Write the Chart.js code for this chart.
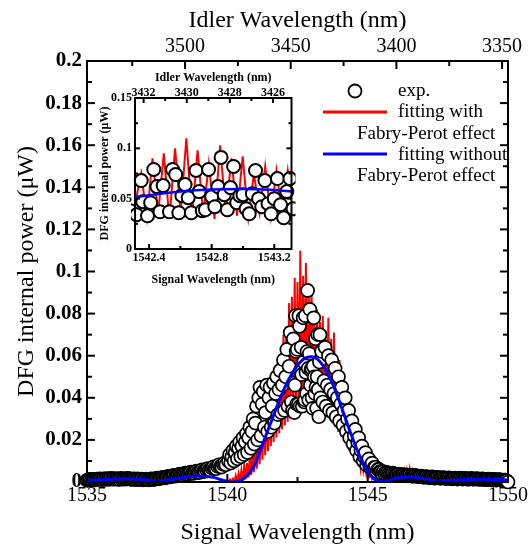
<!DOCTYPE html>
<html>
<head>
<meta charset="utf-8">
<script src="https://cdn.jsdelivr.net/npm/chart.js@4.4.1/dist/chart.umd.min.js"></script>
<style>
  html, body { margin: 0; padding: 0; background: #fff; }
  #wrap { position: relative; width: 532px; height: 547px; }
  #main { position: absolute; left: 0; top: 0; }
  #inset { position: absolute; left: 95px; top: 62px; }
</style>
</head>
<body>
<div id="wrap">
  <canvas id="main" width="532" height="547"></canvas>
  <canvas id="inset" width="205" height="232"></canvas>
</div>
<script>
// measured DFG power (uW) vs signal wavelength (nm)
const expX = [
  // baseline, short side
  1535.00,1535.05,1535.10,1535.15,1535.20,1535.25,1535.30,1535.35,1535.40,1535.45,
  1535.50,1535.55,1535.60,1535.65,1535.70,1535.75,1535.80,1535.85,1535.90,1535.95,
  1536.00,1536.05,1536.10,1536.15,1536.20,1536.25,1536.30,1536.35,1536.40,1536.45,
  1536.50,1536.55,1536.60,1536.65,1536.70,1536.75,1536.80,1536.85,1536.90,1536.95,
  1537.00,1537.05,1537.10,1537.15,1537.20,1537.25,1537.30,1537.35,1537.40,1537.45,
  1537.50,1537.55,1537.60,1537.65,1537.70,1537.75,1537.80,1537.85,1537.90,1537.95,
  1538.00,1538.05,1538.10,1538.15,1538.20,1538.25,1538.30,1538.35,1538.40,1538.45,
  1538.50,1538.55,1538.60,1538.65,1538.70,1538.75,1538.80,1538.85,1538.90,1538.95,
  1539.00,1539.05,1539.10,1539.15,1539.20,1539.25,1539.30,1539.35,1539.40,1539.45,
  1539.50,1539.55,1539.60,1539.65,1539.70,1539.75,1539.80,1539.85,1539.90,1539.95,
  // rising edge
  1540.04,1540.08,1540.12,1540.16,1540.20,1540.24,1540.28,1540.32,1540.36,1540.40,
  1540.44,1540.48,1540.52,1540.56,1540.60,1540.64,1540.68,1540.72,1540.76,1540.80,
  1540.84,1540.88,1540.92,1540.96,1541.00,1541.04,1541.08,1541.12,1541.16,1541.20,
  1541.24,1541.28,1541.32,1541.36,1541.40,1541.44,1541.48,1541.52,1541.56,1541.60,
  1541.64,1541.68,1541.72,1541.76,1541.80,1541.84,1541.88,1541.92,1541.96,1542.00,
  1542.04,1542.08,1542.12,1542.16,1542.20,1542.24,1542.28,
  // peak (also shown in the inset)
  1542.32,1542.35,1542.36,1542.39,1542.41,1542.43,1542.45,1542.47,1542.49,1542.53,
  1542.55,1542.57,1542.59,1542.61,1542.63,1542.65,1542.67,1542.70,1542.72,1542.74,
  1542.76,1542.78,1542.80,1542.82,1542.84,1542.86,1542.88,1542.90,1542.92,1542.94,
  1542.96,1542.98,1543.00,1543.02,1543.04,1543.06,1543.08,1543.10,1543.12,1543.14,
  1543.16,1543.18,1543.20,1543.22,1543.24,1543.26,1543.28,1543.30,1543.32,
  // falling edge
  1543.36,1543.40,1543.44,1543.48,1543.52,1543.56,1543.60,1543.64,1543.68,1543.72,
  1543.76,1543.80,1543.84,1543.88,1543.92,1543.96,1544.00,1544.04,1544.08,1544.12,
  1544.16,1544.20,1544.24,1544.28,1544.32,1544.36,1544.40,1544.44,1544.48,1544.52,
  1544.56,1544.60,1544.64,1544.68,1544.72,1544.76,1544.80,1544.84,1544.88,1544.92,
  1544.96,1545.00,1545.04,1545.08,1545.12,1545.16,1545.20,1545.24,1545.28,1545.32,
  1545.36,1545.40,1545.44,1545.48,1545.52,1545.56,1545.60,
  // baseline, long side
  1545.65,1545.70,1545.75,1545.80,1545.85,1545.90,1545.95,
  1546.00,1546.05,1546.10,1546.15,1546.20,1546.25,1546.30,1546.35,1546.40,1546.45,
  1546.50,1546.55,1546.60,1546.65,1546.70,1546.75,1546.80,1546.85,1546.90,1546.95,
  1547.00,1547.05,1547.10,1547.15,1547.20,1547.25,1547.30,1547.35,1547.40,1547.45,
  1547.50,1547.55,1547.60,1547.65,1547.70,1547.75,1547.80,1547.85,1547.90,1547.95,
  1548.00,1548.05,1548.10,1548.15,1548.20,1548.25,1548.30,1548.35,1548.40,1548.45,
  1548.50,1548.55,1548.60,1548.65,1548.70,1548.75,1548.80,1548.85,1548.90,1548.95,
  1549.00,1549.05,1549.10,1549.15,1549.20,1549.25,1549.30,1549.35,1549.40,1549.45,
  1549.50,1549.55,1549.60,1549.65,1549.70,1549.75,1549.80,1549.85,1549.90,1549.95,
  1550.00
];
const expY = [
  .0008,.0011,.0012,.0009,.0013,.0011,.0010,.0014,.0012,.0015,
  .0014,.0011,.0015,.0013,.0016,.0012,.0015,.0017,.0013,.0016,
  .0013,.0016,.0014,.0012,.0017,.0015,.0013,.0016,.0014,.0017,
  .0016,.0013,.0012,.0015,.0014,.0011,.0015,.0013,.0011,.0014,
  .0010,.0013,.0014,.0011,.0010,.0014,.0015,.0012,.0012,.0016,
  .0018,.0016,.0016,.0020,.0022,.0019,.0020,.0024,.0027,.0024,
  .0025,.0029,.0032,.0028,.0029,.0034,.0037,.0033,.0033,.0039,
  .0042,.0038,.0037,.0043,.0047,.0042,.0041,.0048,.0052,.0046,
  .0045,.0053,.0058,.0051,.0050,.0059,.0064,.0057,.0056,.0066,
  .0072,.0064,.0063,.0074,.0082,.0073,.0071,.0084,.0090,.0082,

  .010,.013,.009,.012,.015,.010,.014,.017,.011,.016,
  .019,.012,.017,.021,.013,.019,.023,.014,.021,.026,
  .016,.024,.030,.018,.028,.036,.020,.040,.045,.022,
  .037,.043,.026,.033,.046,.024,.040,.045,.026,.036,
  .047,.028,.042,.050,.032,.044,.053,.033,.046,.058,
  .034,.050,.063,.036,.055,.071,.038,

  .034,.068,.047,.033,.046,.079,.062,.037,.063,.037,
  .079,.074,.036,.053,.064,.051,.036,.078,.057,.038,
  .039,.079,.052,.042,.062,.091,.054,.039,.061,.082,
  .046,.053,.054,.040,.035,.055,.078,.050,.042,.068,
  .045,.035,.050,.070,.044,.031,.057,.070,.040,

  .062,.038,.048,.064,.036,.046,.060,.034,.044,.058,
  .033,.042,.054,.031,.040,.050,.029,.037,.045,.027,
  .034,.040,.024,.030,.034,.021,.026,.029,.018,.022,
  .025,.015,.019,.021,.012,.015,.017,.010,.012,.014,
  .008,.010,.011,.007,.008,.009,.006,.007,.007,.005,
  .006,.006,.005,.005,.004,.005,.004,

  .0046,.0045,.0040,.0038,.0041,.0042,.0037,
  .0034,.0036,.0038,.0033,.0031,.0034,.0035,.0031,.0029,.0032,
  .0033,.0029,.0027,.0030,.0031,.0027,.0025,.0027,.0028,.0025,
  .0022,.0024,.0026,.0022,.0020,.0023,.0024,.0020,.0018,.0021,
  .0022,.0019,.0017,.0020,.0021,.0018,.0016,.0018,.0020,.0017,
  .0015,.0017,.0019,.0016,.0014,.0016,.0018,.0015,.0014,.0016,
  .0017,.0014,.0013,.0015,.0017,.0014,.0013,.0015,.0016,.0013,
  .0012,.0014,.0015,.0012,.0011,.0013,.0014,.0011,.0010,.0012,
  .0013,.0010,.0009,.0011,.0011,.0009,.0008,.0009,.0009,.0006,
  .0000
];

// fit without Fabry-Perot effect
const blueX = [
  1535.0,1535.5,1536.0,1536.5,1537.0,1537.5,1538.0,1538.5,1539.0,1539.5,
  1539.8,1540.0,1540.2,1540.4,1540.6,1540.8,1541.0,1541.2,1541.4,1541.6,
  1541.8,1542.0,1542.2,1542.4,1542.6,1542.8,1543.0,1543.2,1543.4,1543.6,
  1543.8,1544.0,1544.2,1544.4,1544.6,1544.8,1545.0,1545.2,1545.4,1545.6,
  1545.8,1546.0,1546.3,1546.6,1547.0,1547.5,1548.0,1548.5,1549.0,1549.5,
  1550.0
];
const blueY = [
  .0008,.0011,.0014,.0015,.0012,.0005,.0012,.0024,.0029,.0022,
  .0010,.0003,.0000,.0005,.0018,.0045,.0090,.0160,.0230,.0300,
  .0370,.0435,.0490,.0535,.0570,.0590,.0595,.0585,.0555,.0510,
  .0450,.0380,.0305,.0230,.0160,.0100,.0050,.0018,.0003,.0003,
  .0010,.0018,.0024,.0024,.0016,.0005,.0008,.0012,.0013,.0012,
  .0010
];

// fit with Fabry-Perot effect at full scale: fringe tops and fringe bottoms
const redPeakX = [
  1540.0,1540.1,1540.2,1540.3,1540.4,1540.5,1540.6,1540.7,1540.8,1540.9,
  1541.0,1541.1,1541.2,1541.3,1541.4,1541.5,1541.6,1541.7,1541.8,1541.9,
  1542.0,1542.1,1542.2,1542.3,1542.4,1542.5,1542.6,1542.7,1542.8,1542.9,
  1543.0,1543.1,1543.2,1543.3,1543.4,1543.5,1543.6,1543.7,1543.8,1543.9,
  1544.0,1544.1,1544.2,1544.3,1544.4,1544.5,1544.6,1544.7,1544.8,1544.9,
  1545.0,1545.1,1545.2,1545.3,1545.4,
  1546.1,1546.2,1546.3,1546.4,1546.5,1546.6,1546.7,1546.8
];
const redPeakY = [
  .0010,.0012,.0015,.0030,.0040,.0055,.0075,.0090,.0120,.0140,
  .0175,.0200,.0265,.0285,.0345,.0370,.0445,.0480,.0570,.0600,
  .0700,.0740,.0850,.0880,.0970,.0950,.1100,.0980,.1040,.0920,
  .0930,.0800,.0820,.0760,.0790,.0720,.0780,.0680,.0710,.0600,
  .0580,.0500,.0450,.0360,.0330,.0250,.0215,.0150,.0125,.0085,
  .0065,.0040,.0028,.0015,.0010,
  .0030,.0040,.0050,.0055,.0060,.0050,.0040,.0030
];
const redDipX = [
  1540.05,1540.15,1540.25,1540.35,1540.45,1540.55,1540.65,1540.75,1540.85,1540.95,
  1541.05,1541.15,1541.25,1541.35,1541.45,1541.55,1541.65,1541.75,1541.85,1541.95,
  1542.05,1542.15,1542.25,1542.35,1542.45,1542.55,1542.65,1542.75,1542.85,1542.95,
  1543.05,1543.15,1543.25,1543.35,1543.45,1543.55,1543.65,1543.75,1543.85,1543.95,
  1544.05,1544.15,1544.25,1544.35,1544.45,1544.55,1544.65,1544.75,1544.85,1544.95,
  1545.05,1545.15,1545.25,1545.35,1545.45,
  1546.05,1546.15,1546.25,1546.35,1546.45,1546.55,1546.65,1546.75
];
const redDipY = [
  .0001,.0000,.0001,.0002,.0005,.0008,.0013,.0022,.0033,.0047,
  .0063,.0084,.0106,.0127,.0148,.0170,.0190,.0211,.0232,.0251,
  .0270,.0286,.0301,.0315,.0327,.0337,.0345,.0351,.0355,.0357,
  .0356,.0353,.0347,.0338,.0327,.0313,.0297,.0279,.0260,.0238,
  .0217,.0194,.0172,.0149,.0128,.0107,.0087,.0069,.0053,.0038,
  .0024,.0015,.0008,.0004,.0002,
  .0011,.0012,.0013,.0014,.0014,.0014,.0013,.0012
];

// fit with Fabry-Perot effect, fringes resolved in the inset
const insetRedX = [
  1542.310,1542.350,1542.386,1542.422,1542.458,1542.494,1542.530,1542.566,1542.602,1542.638,
  1542.674,1542.710,1542.746,1542.782,1542.818,1542.854,1542.890,1542.926,1542.962,1542.998,
  1543.034,1543.070,1543.106,1543.142,1543.178,1543.214,1543.250,1543.286,1543.310
];
const insetRedY = [
  .045,.075,.031,.090,.035,.095,.030,.100,.036,.110,
  .032,.098,.034,.085,.030,.103,.035,.090,.033,.092,
  .031,.075,.036,.082,.032,.078,.034,.078,.050
];

const signalTicks = [1535, 1540, 1545, 1550];
const signalMinor = [1537.5, 1542.5, 1547.5];
const idlerTicks = [3500, 3450, 3400, 3350];
const idlerMinor = [3525, 3475, 3425, 3375];
const powerTicks = [0, 0.02, 0.04, 0.06, 0.08, 0.1, 0.12, 0.14, 0.16, 0.18, 0.2];
const powerMinor = [0.01, 0.03, 0.05, 0.07, 0.09, 0.11, 0.13, 0.15, 0.17, 0.19];

const insetSignalTicks = [1542.4, 1542.8, 1543.2];
const insetSignalMinor = [1542.6, 1543.0];
const insetIdlerTicks = [3432, 3430, 3428, 3426];
const insetIdlerMinor = [3431, 3429, 3427];
const insetPowerTicks = [0, 0.05, 0.1, 0.15];
const insetPowerMinor = [0.025, 0.075, 0.125];

const legendRows = ['exp.', 'fitting with', 'Fabry-Perot effect', 'fitting without', 'Fabry-Perot effect'];

const SERIF = '"Liberation Serif", "Times New Roman", serif';
Chart.defaults.font.family = SERIF;
Chart.defaults.color = '#000';
Chart.defaults.animation = false;

const toPoints = (xs, ys) => xs.map((x, i) => ({ x: x, y: ys[i] }));
const useTicks = list => scale => { scale.ticks = list.map(v => ({ value: v })); };

// fringe tops and bottoms joined in wavelength order -> one spiky trace
const redTrace = toPoints(redPeakX, redPeakY)
  .concat(toPoints(redDipX, redDipY))
  .sort((a, b) => a.x - b.x);

// box frame with inward major/minor ticks on all four sides
const frameTicks = {
  id: 'frameTicks',
  afterDraw(chart, args, opts) {
    const { ctx, chartArea: a, scales } = chart;
    ctx.save();
    ctx.strokeStyle = '#000';
    ctx.lineWidth = opts.lineWidth;
    const seg = (x1, y1, x2, y2) => {
      ctx.beginPath(); ctx.moveTo(x1, y1); ctx.lineTo(x2, y2); ctx.stroke();
    };
    const each = (scale, sets, fn) => {
      sets[0].forEach(v => fn(scale.getPixelForValue(v), opts.major));
      sets[1].forEach(v => fn(scale.getPixelForValue(v), opts.minor));
    };
    each(scales.x, opts.bottom, (p, l) => seg(p, a.bottom, p, a.bottom - l));
    each(scales.x2, opts.top, (p, l) => seg(p, a.top, p, a.top + l));
    each(scales.y, opts.side, (p, l) => {
      seg(a.left, p, a.left + l, p);
      seg(a.right, p, a.right - l, p);
    });
    ctx.strokeRect(a.left, a.top, a.right - a.left, a.bottom - a.top);
    ctx.restore();
  }
};

const legendBox = {
  id: 'legendBox',
  afterDraw(chart) {
    const ctx = chart.ctx;
    ctx.save();
    ctx.beginPath();
    ctx.arc(355, 91, 6.5, 0, Math.PI * 2);
    ctx.fillStyle = '#fff';
    ctx.fill();
    ctx.lineWidth = 1.8;
    ctx.strokeStyle = '#000';
    ctx.stroke();
    ctx.lineWidth = 3;
    ctx.strokeStyle = '#ff0000';
    ctx.beginPath(); ctx.moveTo(323, 112); ctx.lineTo(387, 112); ctx.stroke();
    ctx.strokeStyle = '#0000ff';
    ctx.beginPath(); ctx.moveTo(323, 154); ctx.lineTo(387, 154); ctx.stroke();
    ctx.fillStyle = '#000';
    ctx.font = '19px ' + SERIF;
    ctx.textBaseline = 'middle';
    ctx.textAlign = 'left';
    ctx.fillText(legendRows[0], 398, 91);
    ctx.fillText(legendRows[1], 398, 112);
    ctx.fillText(legendRows[2], 357, 134);
    ctx.fillText(legendRows[3], 398, 155);
    ctx.fillText(legendRows[4], 357, 176);
    ctx.restore();
  }
};

const tickFont = { family: SERIF, size: 20 };

new Chart(document.getElementById('main'), {
  type: 'scatter',
  data: {
    datasets: [
      {
        data: redTrace,
        showLine: true, borderColor: '#ff0000', borderWidth: 2,
        pointRadius: 0, order: 3
      },
      {
        data: toPoints(expX, expY),
        pointRadius: 6.5, pointBorderWidth: 1.7,
        pointBorderColor: '#000', pointBackgroundColor: '#fff',
        clip: false, order: 2
      },
      {
        data: toPoints(blueX, blueY),
        showLine: true, borderColor: '#0000ff', borderWidth: 3,
        pointRadius: 0, cubicInterpolationMode: 'monotone', order: 1
      }
    ]
  },
  options: {
    responsive: false,
    events: [],
    layout: { padding: { left: 0, right: 24, top: 0, bottom: 0 } },
    plugins: {
      legend: { display: false },
      tooltip: { enabled: false },
      frameTicks: {
        lineWidth: 2, major: 8, minor: 5,
        bottom: [signalTicks, signalMinor],
        top: [idlerTicks, idlerMinor],
        side: [powerTicks, powerMinor]
      }
    },
    scales: {
      x: {
        type: 'linear', position: 'bottom', min: 1535, max: 1550,
        afterBuildTicks: useTicks(signalTicks),
        afterFit: s => { s.height = 65; },
        grid: { display: false, drawTicks: false }, border: { display: false },
        ticks: { font: tickFont, padding: 2, autoSkip: false, maxRotation: 0, callback: v => String(v) },
        title: { display: true, text: 'Signal Wavelength (nm)', font: { family: SERIF, size: 24 }, padding: { top: 0, bottom: 0 } }
      },
      x2: {
        type: 'linear', position: 'top', min: 3347.2, max: 3546.4, reverse: true,
        afterBuildTicks: useTicks(idlerTicks),
        afterFit: s => { s.height = 61; },
        grid: { display: false, drawTicks: false }, border: { display: false },
        ticks: { font: tickFont, padding: 2, autoSkip: false, maxRotation: 0, callback: v => String(v) },
        title: { display: true, text: 'Idler Wavelength (nm)', font: { family: SERIF, size: 24 }, padding: { top: 6, bottom: 0 } }
      },
      y: {
        type: 'linear', position: 'left', min: 0, max: 0.2,
        afterBuildTicks: useTicks(powerTicks),
        afterFit: s => { s.width = 87; },
        grid: { display: false, drawTicks: false }, border: { display: false },
        ticks: { font: { family: SERIF, size: 21, weight: 'bold' }, padding: 5, autoSkip: false, callback: v => String(v) },
        title: { display: true, text: 'DFG internal power (μW)', font: { family: SERIF, size: 24 }, padding: { top: 12, bottom: 0 } }
      }
    }
  },
  plugins: [frameTicks, legendBox]
});

const insetTick = { family: SERIF, size: 12, weight: 'bold' };
const insetTitle = { family: SERIF, size: 12, weight: 'bold' };

new Chart(document.getElementById('inset'), {
  type: 'scatter',
  data: {
    datasets: [
      {
        data: toPoints(insetRedX, insetRedY),
        showLine: true, borderColor: '#ff0000', borderWidth: 2,
        pointRadius: 0, order: 3
      },
      {
        data: toPoints(expX, expY),
        pointRadius: 6.5, pointBorderWidth: 2,
        pointBorderColor: '#000', pointBackgroundColor: '#fff',
        clip: 4, order: 2
      },
      {
        data: toPoints(blueX, blueY),
        showLine: true, borderColor: '#0000ff', borderWidth: 2.5,
        pointRadius: 0, cubicInterpolationMode: 'monotone', order: 1
      }
    ]
  },
  options: {
    responsive: false,
    events: [],
    layout: { padding: { left: 0, right: 4, top: 0, bottom: 0 } },
    plugins: {
      legend: { display: false },
      tooltip: { enabled: false },
      frameTicks: {
        lineWidth: 2, major: 5, minor: 3,
        bottom: [insetSignalTicks, insetSignalMinor],
        top: [insetIdlerTicks, insetIdlerMinor],
        side: [insetPowerTicks, insetPowerMinor]
      }
    },
    scales: {
      x: {
        type: 'linear', position: 'bottom', min: 1542.31, max: 1543.31,
        afterBuildTicks: useTicks(insetSignalTicks),
        afterFit: s => { s.height = 45; },
        grid: { display: false, drawTicks: false }, border: { display: false },
        ticks: { font: insetTick, padding: 2, autoSkip: false, maxRotation: 0, callback: v => v.toFixed(1) },
        title: { display: true, text: 'Signal Wavelength (nm)', font: insetTitle, padding: { top: 0, bottom: 7 } }
      },
      x2: {
        type: 'linear', position: 'top', min: 3425.14, max: 3432.4, reverse: true,
        afterBuildTicks: useTicks(insetIdlerTicks),
        afterFit: s => { s.height = 36; },
        grid: { display: false, drawTicks: false }, border: { display: false },
        ticks: { font: insetTick, padding: -2, autoSkip: false, maxRotation: 0, callback: v => String(v) },
        title: { display: true, text: 'Idler Wavelength (nm)', font: insetTitle, padding: { top: 9, bottom: 0 } }
      },
      y: {
        type: 'linear', position: 'left', min: 0, max: 0.15,
        afterBuildTicks: useTicks(insetPowerTicks),
        afterFit: s => { s.width = 40; },
        grid: { display: false, drawTicks: false }, border: { display: false },
        ticks: { font: insetTick, padding: 3, autoSkip: false, callback: v => String(v) },
        title: { display: true, text: 'DFG internal power (μW)', font: insetTitle, padding: { top: 3, bottom: 0 } }
      }
    }
  },
  plugins: [frameTicks]
});
</script>
</body>
</html>
